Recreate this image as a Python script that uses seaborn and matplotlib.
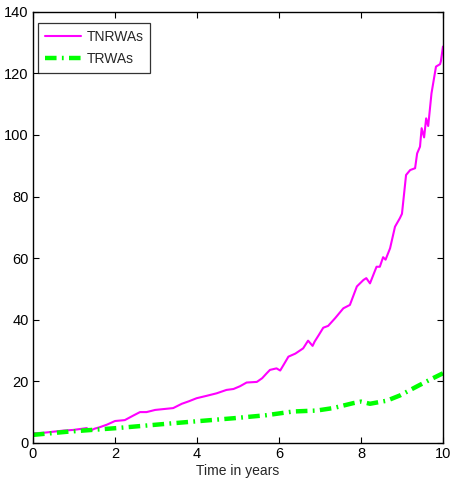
import matplotlib
matplotlib.use('Agg')
import matplotlib.pyplot as plt
import seaborn as sns
import pandas as pd

# values
t_tnrwa = [0.0, 0.27, 0.54, 0.75, 0.98, 1.15, 1.31, 1.39, 1.50, 1.63, 1.80, 2.0, 2.24,
           2.45, 2.61, 2.77, 2.98, 3.20, 3.42, 3.63, 3.80, 3.99, 4.24, 4.48, 4.72, 4.89,
           5.05, 5.21, 5.46, 5.59, 5.70, 5.78, 5.94, 6.03, 6.12, 6.23, 6.40, 6.59, 6.71,
           6.82, 6.87, 6.97, 7.08, 7.20, 7.37, 7.57, 7.73, 7.90, 8.06, 8.13, 8.22, 8.38,
           8.46, 8.54, 8.60, 8.71, 8.83, 8.95, 9.00, 9.10, 9.20, 9.32, 9.37, 9.44, 9.48,
           9.54, 9.59, 9.64, 9.72, 9.83, 9.93, 9.95, 10.0]
v_tnrwa = [3.1, 3.3, 3.7, 4.0, 4.2, 4.5, 4.8, 3.9, 4.6, 5.1, 5.9, 7.1, 7.4,
           8.9, 10.0, 10.0, 10.7, 11.0, 11.3, 12.7, 13.5, 14.5, 15.3, 16.1, 17.2, 17.5,
           18.4, 19.6, 19.8, 21.0, 22.6, 23.7, 24.2, 23.5, 25.5, 28.0, 29.0, 30.7, 33.2,
           31.5, 32.9, 35.0, 37.4, 38.0, 40.5, 43.7, 44.8, 50.8, 52.9, 53.5, 51.8, 57.2,
           57.2, 60.3, 59.5, 63.2, 70.2, 73.0, 74.4, 87.0, 88.6, 89.2, 94.0, 96.2, 102.2,
           99.2, 105.4, 102.9, 113.5, 122.2, 123.0, 124.0, 128.7]

t_trwa = [0.0, 0.82, 2.04, 3.26, 4.07, 4.89, 5.70, 6.35, 6.92, 7.32, 7.81, 8.0, 8.22,
          8.63, 8.95, 9.36, 9.68, 10.0]
v_trwa = [2.6, 3.6, 4.8, 6.2, 7.1, 8.0, 9.0, 10.2, 10.5, 11.3, 12.9, 13.4, 12.7,
          13.7, 15.4, 18.3, 20.5, 22.6]

df1 = pd.DataFrame({'t': t_tnrwa, 'v': v_tnrwa})
df2 = pd.DataFrame({'t': t_trwa, 'v': v_trwa})

sns.set_style('ticks')
plt.rcParams['font.family'] = ['Liberation Sans', 'DejaVu Sans']

fig = plt.figure(figsize=(4.52, 4.91), dpi=100)
ax = fig.add_axes([0.073, 0.098, 0.907, 0.878])

sns.lineplot(data=df1, x='t', y='v', ax=ax, color='#ff00ff', linewidth=1.5,
             label='TNRWAs', estimator=None, sort=False)
sns.lineplot(data=df2, x='t', y='v', ax=ax, color='#00ff00', linewidth=3.2,
             label='TRWAs', estimator=None, sort=False)
ax.lines[1].set_dashes([2.6, 1.2, 0.4, 1.2])

ax.set_xlim(0, 10)
ax.set_ylim(0, 140)
ax.set_xticks(range(0, 11, 2))
ax.set_yticks(range(0, 141, 20))
ax.set_xlabel('Time in years', fontsize=10, labelpad=2)
ax.set_ylabel('')
ax.tick_params(direction='in', top=True, right=True, length=4, width=0.8,
               labelsize=10.5, pad=3, colors='black')
for s in ax.spines.values():
    s.set_visible(True)
    s.set_color('black')
    s.set_linewidth(1.0)

leg = ax.legend(loc='upper left', bbox_to_anchor=(0.012, 0.975), fontsize=10,
                frameon=True, fancybox=False, edgecolor='black', handlelength=2.6,
                borderpad=0.5, labelspacing=0.6, handletextpad=0.4, borderaxespad=0)
leg.get_frame().set_linewidth(0.9)

fig.savefig('out.png', dpi=100)
